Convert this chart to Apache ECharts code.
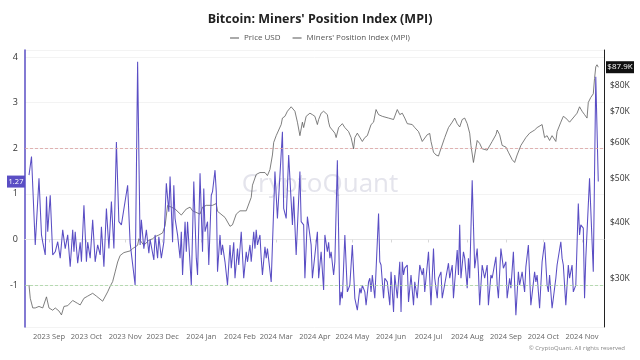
<!DOCTYPE html>
<html><head><meta charset="utf-8">
<script src="https://cdn.jsdelivr.net/npm/echarts@6/dist/echarts.min.js"></script>
<style>html,body{margin:0;padding:0;background:#fff}#c{width:640px;height:360px}</style>
</head><body><div id="c"></div><script>
const FONT = '"Open Sans", "Noto Sans", sans-serif';
const titleText = "Bitcoin: Miners' Position Index (MPI)";
const legendNames = ['Price USD', "Miners' Position Index (MPI)"];
const watermark = 'CryptoQuant';
const copyright = '\u00A9 CryptoQuant. All rights reserved';
const monthNames = ['Jan','Feb','Mar','Apr','May','Jun','Jul','Aug','Sep','Oct','Nov','Dec'];
const monthTicks = ['2023-09-01','2023-10-01','2023-11-01','2023-12-01','2024-01-01','2024-02-01','2024-03-01','2024-04-01','2024-05-01','2024-06-01','2024-07-01','2024-08-01','2024-09-01','2024-10-01','2024-11-01'];
const xRange = ['2023-08-12 19:00', '2024-11-18 14:00'];
const mpiRange = [-1.92, 4.156];
const priceRange = [23512, 95926];
const priceTicks = [30000, 40000, 50000, 60000, 70000, 80000];
const mpiLevels = [2, -1];

const mpiDates = [
'2023-08-16','2023-08-18','2023-08-21','2023-08-24','2023-08-26','2023-08-27','2023-08-29','2023-08-30','2023-08-31','2023-09-02',
'2023-09-04','2023-09-06','2023-09-08','2023-09-10','2023-09-12','2023-09-14','2023-09-16','2023-09-18','2023-09-20','2023-09-21',
'2023-09-22','2023-09-24','2023-09-26','2023-09-27','2023-09-29','2023-10-01','2023-10-02','2023-10-04','2023-10-06','2023-10-08',
'2023-10-10','2023-10-12','2023-10-13','2023-10-15','2023-10-17','2023-10-19','2023-10-21','2023-10-23','2023-10-25','2023-10-27',
'2023-10-29','2023-11-03','2023-11-05','2023-11-06','2023-11-09','2023-11-11','2023-11-13','2023-11-14','2023-11-16','2023-11-18',
'2023-11-20','2023-11-21','2023-11-24','2023-11-25','2023-11-27','2023-11-28','2023-11-30','2023-12-02','2023-12-04','2023-12-06',
'2023-12-07','2023-12-09','2023-12-10','2023-12-11','2023-12-13','2023-12-15','2023-12-16','2023-12-17','2023-12-19','2023-12-20',
'2023-12-21','2023-12-24','2023-12-26','2023-12-28','2023-12-29','2023-12-31','2024-01-02','2024-01-03','2024-01-04','2024-01-06',
'2024-01-07','2024-01-09','2024-01-10','2024-01-12','2024-01-13','2024-01-14','2024-01-16','2024-01-17','2024-01-18','2024-01-20',
'2024-01-22','2024-01-24','2024-01-25','2024-01-27','2024-01-28','2024-01-30','2024-01-31','2024-02-02','2024-02-04','2024-02-06',
'2024-02-07','2024-02-09','2024-02-10','2024-02-12','2024-02-13','2024-02-14','2024-02-15','2024-02-17','2024-02-18','2024-02-19',
'2024-02-21','2024-02-22','2024-02-23','2024-02-26','2024-02-29','2024-03-02','2024-03-06','2024-03-07','2024-03-09','2024-03-11',
'2024-03-13','2024-03-14','2024-03-15','2024-03-17','2024-03-20','2024-03-21','2024-03-23','2024-03-24','2024-03-26','2024-03-29',
'2024-03-30','2024-04-03','2024-04-04','2024-04-06','2024-04-08','2024-04-09','2024-04-11','2024-04-12','2024-04-13','2024-04-14',
'2024-04-16','2024-04-17','2024-04-19','2024-04-21','2024-04-22','2024-04-23','2024-04-25','2024-04-27','2024-04-29','2024-05-01',
'2024-05-02','2024-05-03','2024-05-05','2024-05-07','2024-05-08','2024-05-09','2024-05-11','2024-05-12','2024-05-14','2024-05-15',
'2024-05-16','2024-05-17','2024-05-19','2024-05-22','2024-05-23','2024-05-24','2024-05-26','2024-05-27','2024-05-29','2024-05-31',
'2024-06-01','2024-06-03','2024-06-04','2024-06-06','2024-06-08','2024-06-09','2024-06-10','2024-06-11','2024-06-12','2024-06-14',
'2024-06-15','2024-06-17','2024-06-19','2024-06-20','2024-06-22','2024-06-24','2024-06-26','2024-06-27','2024-06-28','2024-07-01',
'2024-07-03','2024-07-05','2024-07-06','2024-07-08','2024-07-09','2024-07-11','2024-07-12','2024-07-17','2024-07-18','2024-07-20',
'2024-07-21','2024-07-24','2024-07-25','2024-07-26','2024-07-27','2024-07-29','2024-07-30','2024-08-01','2024-08-02','2024-08-03',
'2024-08-05','2024-08-07','2024-08-09','2024-08-10','2024-08-11','2024-08-13','2024-08-15','2024-08-17','2024-08-18','2024-08-20',
'2024-08-21','2024-08-24','2024-08-25','2024-08-26','2024-08-28','2024-08-30','2024-09-01','2024-09-02','2024-09-04','2024-09-05',
'2024-09-07','2024-09-09','2024-09-11','2024-09-12','2024-09-14','2024-09-16','2024-09-17','2024-09-19','2024-09-21','2024-09-24',
'2024-09-25','2024-09-26','2024-09-28','2024-09-30','2024-10-02','2024-10-04','2024-10-05','2024-10-06','2024-10-08','2024-10-11',
'2024-10-12','2024-10-15','2024-10-16','2024-10-17','2024-10-19','2024-10-21','2024-10-22','2024-10-24','2024-10-25','2024-10-27',
'2024-10-29','2024-10-30','2024-10-31','2024-11-02','2024-11-03','2024-11-04','2024-11-07','2024-11-10','2024-11-12','2024-11-14'
];
const mpiValues = [
1.41,1.82,-0.12,1.34,0.10,-0.06,-0.34,0.94,0.17,0.97,
-0.34,-0.27,-0.05,-0.41,0.21,-0.20,0.10,-0.60,0.21,-0.27,
0.17,-0.52,-0.06,-0.49,0.75,-0.49,-0.06,-0.41,0.43,-0.49,
-0.12,-0.34,0.28,-0.60,0.68,-0.20,0.83,-0.20,2.14,0.39,
0.32,1.19,-0.08,-0.05,-1.00,3.90,-0.12,0.43,-0.20,0.21,
-0.30,0.00,-0.45,0.10,-0.41,0.06,-0.41,-0.06,1.23,0.61,
1.38,-0.06,1.19,0.46,0.10,-0.41,0.17,-0.78,0.39,-0.27,
0.39,-1.00,1.27,-0.41,-0.78,1.45,-0.27,1.12,0.17,0.39,
-0.56,0.97,1.05,1.52,1.05,-0.71,0.10,-0.34,-0.12,-0.49,
-1.00,-0.12,-0.63,-0.06,-0.85,-0.20,-0.56,0.17,-0.85,-0.27,
-0.49,-0.12,-0.49,0.17,-0.20,0.21,-0.12,0.10,-0.41,-0.78,
-0.16,-0.41,-0.20,-0.93,1.49,0.46,2.36,0.68,0.46,1.85,
0.83,0.32,0.94,-0.34,1.49,0.39,0.32,-0.85,0.50,-0.12,
-0.85,0.17,-0.85,-0.27,-1.11,0.10,-0.27,-0.06,-0.41,-0.27,
-0.78,-0.49,1.74,-1.44,-1.15,-1.29,0.10,-1.15,-1.00,-0.12,
-0.71,-1.29,-1.55,-1.07,-1.18,-1.00,-1.15,-1.44,-0.93,-0.85,
-1.15,-0.78,-1.29,0.57,-0.49,-0.56,-1.29,-0.85,-0.93,-1.44,
-0.71,-1.59,-0.78,-1.29,-0.49,-1.59,-0.49,-0.78,-0.63,-0.56,
-1.37,-0.78,-1.44,-0.93,-1.29,-0.56,-0.78,-0.63,-1.15,-0.27,
-1.44,-0.20,-0.85,-1.29,-0.85,-0.71,-1.29,-0.52,-0.85,-0.56,
-1.29,-0.23,-0.78,0.32,-0.85,-0.27,-0.41,-1.07,-0.41,-0.85,
1.30,-0.63,-0.20,-0.71,-1.44,-0.56,-0.85,-0.56,-1.44,-0.78,
-0.85,-0.38,-1.00,-1.29,-0.20,-0.63,-0.49,-1.29,-0.85,-1.07,
-0.27,-1.66,-0.71,-1.00,-0.71,-1.15,-0.60,-0.12,-1.44,-0.71,
-0.93,-0.78,-1.51,-0.49,-0.06,-1.00,-1.15,-0.78,-1.51,-0.85,
-0.56,-0.05,-0.41,-0.56,-1.44,-0.56,-0.85,-0.56,-1.15,-1.00,
0.79,0.10,0.32,0.25,-1.29,-0.41,1.34,-0.71,3.57,1.27
];

const priceDates = [
'2023-08-16','2023-08-17','2023-08-19','2023-08-21','2023-08-24','2023-08-27','2023-08-30','2023-09-01','2023-09-04','2023-09-06',
'2023-09-09','2023-09-11','2023-09-13','2023-09-16','2023-09-20','2023-09-24','2023-09-26','2023-09-29','2023-10-02','2023-10-06',
'2023-10-09','2023-10-14','2023-10-18','2023-10-20','2023-10-22','2023-10-24','2023-10-26','2023-10-28','2023-10-31','2023-11-05',
'2023-11-07','2023-11-11','2023-11-12','2023-11-16','2023-11-20','2023-11-23','2023-11-25','2023-11-28','2023-12-01','2023-12-03',
'2023-12-05','2023-12-08','2023-12-11','2023-12-16','2023-12-20','2023-12-23','2023-12-25','2023-12-31','2024-01-02','2024-01-05',
'2024-01-10','2024-01-13','2024-01-14','2024-01-20','2024-01-24','2024-01-26','2024-01-29','2024-02-01','2024-02-06','2024-02-10',
'2024-02-11','2024-02-14','2024-02-17','2024-02-21','2024-02-23','2024-02-25','2024-02-27','2024-02-28','2024-03-01','2024-03-05',
'2024-03-06','2024-03-08','2024-03-10','2024-03-13','2024-03-14','2024-03-16','2024-03-18','2024-03-20','2024-03-22','2024-03-23',
'2024-03-25','2024-03-28','2024-03-30','2024-04-01','2024-04-03','2024-04-04','2024-04-06','2024-04-08','2024-04-09','2024-04-11',
'2024-04-12','2024-04-13','2024-04-15','2024-04-17','2024-04-18','2024-04-20','2024-04-23','2024-04-25','2024-04-28','2024-04-30',
'2024-05-02','2024-05-03','2024-05-05','2024-05-09','2024-05-11','2024-05-13','2024-05-16','2024-05-18','2024-05-20','2024-05-22',
'2024-05-25','2024-05-30','2024-06-03','2024-06-06','2024-06-08','2024-06-10','2024-06-12','2024-06-14','2024-06-18','2024-06-20',
'2024-06-23','2024-06-24','2024-06-26','2024-06-30','2024-07-02','2024-07-03','2024-07-05','2024-07-07','2024-07-09','2024-07-10',
'2024-07-14','2024-07-17','2024-07-18','2024-07-20','2024-07-22','2024-07-24','2024-07-26','2024-07-28','2024-07-30','2024-08-01',
'2024-08-03','2024-08-04','2024-08-06','2024-08-09','2024-08-11','2024-08-13','2024-08-17','2024-08-21','2024-08-24','2024-08-25',
'2024-08-27','2024-08-29','2024-09-01','2024-09-03','2024-09-06','2024-09-08','2024-09-10','2024-09-13','2024-09-17','2024-09-20',
'2024-09-22','2024-09-24','2024-09-26','2024-09-30','2024-10-02','2024-10-04','2024-10-06','2024-10-08','2024-10-11','2024-10-12',
'2024-10-15','2024-10-17','2024-10-19','2024-10-22','2024-10-28','2024-10-30','2024-11-01','2024-11-03','2024-11-05','2024-11-06',
'2024-11-08','2024-11-10','2024-11-11','2024-11-12','2024-11-13','2024-11-14'
];
const priceValues = [
29100,27200,25900,25900,26100,25900,27400,25900,25600,25900,
25500,25000,26100,26200,26900,26500,26300,27200,27500,27900,
27500,26800,28100,28900,29600,31100,32700,33800,34300,34600,
35000,35600,36800,35600,36500,36800,37200,37500,37900,39300,
43600,43200,42800,41500,42800,43200,42400,41700,43200,43600,
43600,44000,42300,41000,39200,39500,41700,42400,42400,45400,
48300,51000,51500,51500,50700,52300,56300,60000,62100,65700,
67900,68500,70300,71900,72500,70300,66500,62100,66500,64700,
68500,69600,69100,68500,65700,67400,69600,70300,70900,69100,
66500,64900,63900,62900,61500,64700,66000,64700,63400,61500,
58100,61500,62900,60300,61500,62100,65700,66500,70900,69100,
68500,67900,67400,70900,69100,69600,67900,66000,65700,64700,
63400,62400,60300,62400,62800,60300,57100,56300,56000,57100,
61500,64700,65100,66500,67900,66000,64900,67400,67900,66000,
62900,59100,54200,60600,59700,58100,57700,60300,62400,63900,
62400,59100,58600,57100,55000,54200,56300,59100,61500,62900,
63400,63900,64700,65700,61500,62100,60600,62100,60300,63400,
66500,68500,67900,66500,69600,71900,70300,69100,67900,73500,
75400,76800,83000,88100,89000,87900
];

const MPI_COLOR = '#5a4ec4';
const PRICE_COLOR = '#5e5e5e';

function ts(s) {
  const p = s.split(/[- :]/).map(Number);
  return Date.UTC(p[0], p[1] - 1, p[2], p[3] || 0, p[4] || 0);
}

const chart = echarts.init(document.getElementById('c'), null, {renderer: 'canvas'});
const mpiData = mpiDates.map((d, i) => [ts(d), mpiValues[i]]);
const priceData = priceDates.map((d, i) => [ts(d), Math.log(priceValues[i])]);
const monthTickValues = monthTicks.map(ts);

const option = {
  animation: false,
  backgroundColor: '#fff',
  textStyle: {fontFamily: FONT},
  title: {
    text: titleText, left: 'center', top: 8,
    textStyle: {fontFamily: FONT, fontSize: 12.5, fontWeight: 'bold', color: '#222'}
  },
  legend: {
    top: 29, left: 'center', itemWidth: 9, itemHeight: 1, itemGap: 12, icon: 'rect',
    textStyle: {fontFamily: FONT, fontSize: 8, color: '#555'},
    data: [
      {name: legendNames[0], itemStyle: {color: '#555'}},
      {name: legendNames[1], itemStyle: {color: '#555'}}
    ]
  },
  grid: {left: 25, right: 36, top: 50, bottom: 33, containLabel: false},
  xAxis: {
    type: 'value', min: ts(xRange[0]), max: ts(xRange[1]),
    axisLine: {show: true, lineStyle: {color: '#e6e6e6'}},
    axisTick: {show: true, length: 3, lineStyle: {color: '#d8d8d8'}, customValues: monthTickValues},
    axisLabel: {
      customValues: monthTickValues, fontFamily: FONT, fontSize: 7.5, color: '#666', margin: 6,
      formatter: v => { const d = new Date(v); return d.getUTCFullYear() + ' ' + monthNames[d.getUTCMonth()]; }
    },
    splitLine: {show: false}
  },
  yAxis: [
    {
      type: 'value', position: 'left', min: mpiRange[0], max: mpiRange[1],
      axisLine: {show: true, lineStyle: {color: MPI_COLOR, width: 1.5}},
      axisTick: {show: false},
      axisLabel: {showMinLabel: false, showMaxLabel: false, fontFamily: FONT, fontSize: 9, color: '#333', margin: 7},
      splitLine: {show: true, lineStyle: {color: '#f3f3f3', width: 1}}
    },
    {
      type: 'value', position: 'right', min: Math.log(priceRange[0]), max: Math.log(priceRange[1]),
      axisLine: {show: true, lineStyle: {color: '#222', width: 1}},
      axisTick: {show: false},
      axisLabel: {
        customValues: priceTicks.map(v => Math.log(v)), fontFamily: FONT, fontSize: 8.5, color: '#333', margin: 6,
        formatter: v => '$' + Math.round(Math.exp(v) / 1000) + 'K'
      },
      splitLine: {show: false}
    }
  ],
  series: [
    {
      name: legendNames[0], type: 'line', yAxisIndex: 1, data: priceData, showSymbol: false,
      lineStyle: {color: PRICE_COLOR, width: 0.8}, itemStyle: {color: PRICE_COLOR}, z: 2
    },
    {
      name: legendNames[1], type: 'line', yAxisIndex: 0, data: mpiData, showSymbol: false,
      lineStyle: {color: MPI_COLOR, width: 1.05}, itemStyle: {color: MPI_COLOR}, z: 3,
      markLine: {
        silent: true, symbol: 'none', label: {show: false},
        data: [
          {yAxis: mpiLevels[0], lineStyle: {color: '#d9a0a0', type: [3, 2], width: 0.8}},
          {yAxis: mpiLevels[1], lineStyle: {color: '#a6d3a0', type: [3, 2], width: 0.8}}
        ]
      }
    }
  ]
};
chart.setOption(option);

const lastMpi = mpiValues[mpiValues.length - 1];
const lastPrice = priceValues[priceValues.length - 1];
const yM = chart.convertToPixel({yAxisIndex: 0}, lastMpi);
const yP = chart.convertToPixel({yAxisIndex: 1}, Math.log(lastPrice));
const xR = chart.convertToPixel({xAxisIndex: 0}, ts(xRange[1]));
const yTop = chart.convertToPixel({yAxisIndex: 0}, mpiRange[1]);
const yBot = chart.convertToPixel({yAxisIndex: 0}, mpiRange[0]);
chart.setOption({
  graphic: [
    {type: 'text', left: 'center', top: (yTop + yBot) / 2 - 17, z: 0, silent: true,
     style: {text: watermark, fontFamily: FONT, fontSize: 26, fill: '#e4e4ec', fontWeight: 'normal'}},
    {type: 'text', right: 15, top: 345, silent: true,
     style: {text: copyright, fontFamily: FONT, fontSize: 6, fill: '#888'}},
    {type: 'group', left: 7, top: yM - 6, silent: true, children: [
      {type: 'rect', shape: {x: 0, y: 0, width: 18, height: 12}, style: {fill: MPI_COLOR}},
      {type: 'text', x: 9, y: 6, style: {text: lastMpi.toFixed(2), fontFamily: FONT, fontSize: 7.5, fill: '#fff', align: 'center', verticalAlign: 'middle'}}
    ]},
    {type: 'group', left: xR + 2, top: yP - 6, silent: true, children: [
      {type: 'rect', shape: {x: 0, y: 0, width: 28, height: 12}, style: {fill: '#111'}},
      {type: 'text', x: 14, y: 6, style: {text: '$' + (lastPrice / 1000).toFixed(1) + 'K', fontFamily: FONT, fontSize: 8, fill: '#fff', align: 'center', verticalAlign: 'middle'}}
    ]}
  ]
});
</script></body></html>
